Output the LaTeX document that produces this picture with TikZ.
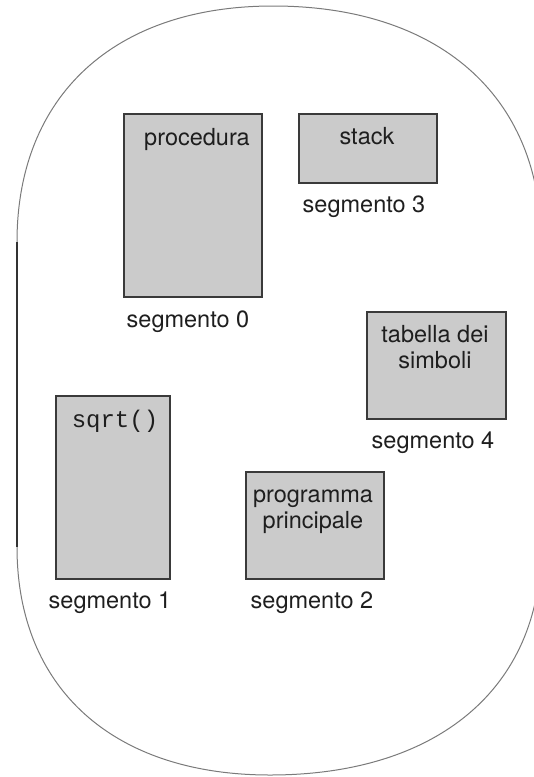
\documentclass[tikz,border=0pt]{standalone}
\usepackage{fontspec}
\setmainfont{TeX Gyre Heros}
\setmonofont{Liberation Mono}
\begin{document}
\begin{tikzpicture}[x=1pt,y=-1pt,
  segbox/.style={draw=boxline, fill=boxfill, line width=1.3pt, inner sep=0pt},
  txt/.style={text=txtcol, font=\fontsize{23.5}{25.5}\selectfont, inner sep=0pt, anchor=base, align=center},
  codetxt/.style={text=txtcol, font=\fontsize{24}{26}\selectfont\ttfamily, inner sep=0pt, anchor=base},
  rim/.style={draw=rimcol, line width=1pt},
  rimside/.style={draw=rimdark, line width=1.1pt}]
\definecolor{boxfill}{HTML}{CBCBCB}
\definecolor{boxline}{HTML}{3A3A3A}
\definecolor{txtcol}{HTML}{1E1E1E}
\definecolor{rimcol}{HTML}{7A7A7A}
\definecolor{rimdark}{HTML}{333333}
\useasboundingbox (0,0) rectangle (534,777);

% outer memory region
\begin{scope}
  \clip (0,0) rectangle (534,777);
  \draw[rim] (17,242) .. controls (17,95.7) and (114.3,6) .. (273,6)
             .. controls (438.5,6) and (541,95.7) .. (541,242)
             -- (541,547)
             .. controls (541,688.4) and (437.4,775) .. (270,775)
             .. controls (113.1,775) and (17,688.4) .. (17,547);
  \draw[rimside] (17,242) -- (17,547);
\end{scope}

% segments
\node[segbox, minimum width=138pt, minimum height=183pt] (b0) at (193,205.5) {};
\node[segbox, minimum width=138pt, minimum height=69pt]  (b3) at (368,148.5) {};
\node[segbox, minimum width=139pt, minimum height=107pt] (b4) at (436.5,365.5) {};
\node[segbox, minimum width=114pt, minimum height=183pt] (b1) at (113,487.5) {};
\node[segbox, minimum width=138pt, minimum height=107pt] (b2) at (315,525.5) {};

% contents (two-line labels are placed by the baseline of their last line)
\node[txt] (t0) at (197,145) {procedura};
\node[txt] (t3) at (367,144) {stack};
\node[txt] (t4) at (435,368) {tabella dei\\simboli};
\node[codetxt] (t1) at (115,427) {sqrt()};
\node[txt] (t2) at (313,528) {programma\\principale};

% captions
\node[txt] (c0) at (188,327) {segmento 0};
\node[txt] (c3) at (364,212) {segmento 3};
\node[txt] (c4) at (433,448) {segmento 4};
\node[txt] (c1) at (110,608) {segmento 1};
\node[txt] (c2) at (312,608) {segmento 2};
\end{tikzpicture}
\end{document}
